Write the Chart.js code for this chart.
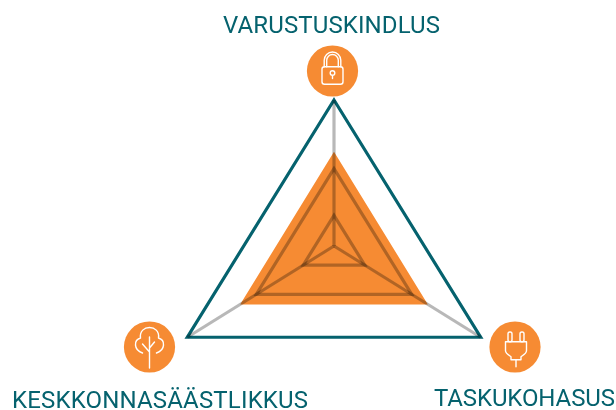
<!DOCTYPE html>
<html>
<head>
<meta charset="utf-8">
<style>
  html, body { margin: 0; padding: 0; background: #fff; }
  #wrap { position: relative; width: 616px; height: 410px; }
</style>
<script src="https://cdn.jsdelivr.net/npm/chart.js@4/dist/chart.umd.js"></script>
</head>
<body>
<div id="wrap"><canvas id="radar_chart" width="616" height="410"></canvas></div>
<script>
var categories = ["VARUSTUSKINDLUS", "TASKUKOHASUS", "KESKKONNASÄÄSTLIKKUS"];
var scores = [64.5, 64, 64];
var ringLevels = [21, 53, 100];

var TEAL = "#05626e";
var ORANGE = "#f68b33";

// the original triangle is not regular: wider and lower than a radar would draw it
class FlatRadialScale extends Chart.RadialLinearScale {
  getPointPosition(index, distance, additionalAngle) {
    var pos = super.getPointPosition(index, distance, additionalAngle);
    var dy = pos.y - this.yCenter;
    pos.x = this.xCenter + (pos.x - this.xCenter) * 1.16;
    pos.y = this.yCenter + (dy > 0 ? dy * 1.25 : dy);
    return pos;
  }
}
FlatRadialScale.id = "flatRadial";
FlatRadialScale.defaults = Chart.RadialLinearScale.defaults;
Chart.register(FlatRadialScale);

function lockIcon(ctx) {
  ctx.beginPath();
  ctx.roundRect(-10.5, -4.3, 21, 17.5, 2.5);
  ctx.stroke();
  ctx.beginPath();
  ctx.moveTo(-8.3, -4.3); ctx.lineTo(-8.3, -10.7);
  ctx.arc(0, -10.7, 8.3, Math.PI, 0);
  ctx.lineTo(8.3, -4.3);
  ctx.moveTo(-5.8, -4.3); ctx.lineTo(-5.8, -10.7);
  ctx.arc(0, -10.7, 5.8, Math.PI, 0);
  ctx.lineTo(5.8, -4.3);
  ctx.stroke();
  ctx.beginPath();
  ctx.arc(0, 2, 2.3, 0, Math.PI * 2);
  ctx.moveTo(0, 4.3); ctx.lineTo(0, 7.5);
  ctx.stroke();
}

function treeIcon(ctx) {
  ctx.beginPath();
  ctx.moveTo(-7, 6);
  ctx.bezierCurveTo(-16, 3, -16, -7, -9, -9);
  ctx.bezierCurveTo(-11, -23, 11, -23, 9, -9);
  ctx.bezierCurveTo(16, -7, 16, 3, 7, 6);
  ctx.stroke();
  ctx.beginPath();
  ctx.moveTo(0, 21); ctx.lineTo(0, -10);
  ctx.moveTo(0, 5); ctx.lineTo(-7, -3);
  ctx.moveTo(0, 1); ctx.lineTo(5, -5);
  ctx.stroke();
}

function plugIcon(ctx) {
  ctx.translate(1, 2);
  ctx.beginPath();
  ctx.moveTo(-10.5, -7.3); ctx.lineTo(10.5, -7.3); ctx.lineTo(10.5, 1.7);
  ctx.quadraticCurveTo(10.5, 4, 6, 7);
  ctx.lineTo(5, 7.7); ctx.lineTo(5, 10.7); ctx.lineTo(-5, 10.7); ctx.lineTo(-5, 7.7); ctx.lineTo(-6, 7);
  ctx.quadraticCurveTo(-10.5, 4, -10.5, 1.7);
  ctx.closePath();
  ctx.moveTo(0, 10.7); ctx.lineTo(0, 17.7);
  ctx.stroke();
  ctx.beginPath();
  ctx.roundRect(-8, -17, 4, 9.7, 1.8);
  ctx.roundRect(4, -17, 4, 9.7, 1.8);
  ctx.stroke();
}

var badges = [
  { x: 332.5, y: 71, draw: lockIcon },
  { x: 515, y: 347, draw: plugIcon },
  { x: 149.5, y: 347, draw: treeIcon }
];
var captions = [
  { left: 223, right: 440, base: 32.5 },
  { left: 434, right: 615, base: 406 },
  { left: 12, right: 308, base: 408 }
];

var axisDecor = {
  id: "axisDecor",
  afterDraw: function(chart) {
    var ctx = chart.ctx;
    ctx.save();
    badges.forEach(function(b) {
      ctx.fillStyle = ORANGE;
      ctx.beginPath();
      ctx.arc(b.x, b.y, 25.6, 0, Math.PI * 2);
      ctx.fill();
      ctx.save();
      ctx.translate(b.x, b.y);
      ctx.strokeStyle = "#fff";
      ctx.lineWidth = 1.4;
      ctx.lineJoin = "round";
      ctx.lineCap = "round";
      b.draw(ctx);
      ctx.restore();
    });
    ctx.fillStyle = TEAL;
    ctx.font = "400 24px Roboto";
    ctx.textAlign = "left";
    ctx.textBaseline = "alphabetic";
    chart.data.labels.forEach(function(label, i) {
      var c = captions[i];
      ctx.letterSpacing = "0px";
      var natural = ctx.measureText(label).width;
      var w = c.right - c.left;
      ctx.letterSpacing = ((w - natural) / (label.length - 1)).toFixed(2) + "px";
      ctx.fillText(label, c.left, c.base);
    });
    ctx.restore();
  }
};

var context = document.getElementById("radar_chart").getContext("2d");
var myChart = new Chart(context, {
  type: "radar",
  plugins: [axisDecor],
  data: {
    labels: categories,
    datasets: [{
      data: scores,
      backgroundColor: ORANGE,
      borderWidth: 0,
      pointRadius: 0,
      fill: true
    }]
  },
  options: {
    responsive: false,
    animation: false,
    layout: { padding: { left: 188, right: 136, top: 100, bottom: 18 } },
    plugins: { legend: { display: false }, tooltip: { enabled: false } },
    scales: {
      r: {
        type: "flatRadial",
        min: 0,
        max: 100,
        afterBuildTicks: function(scale) {
          scale.ticks = [{ value: 0 }].concat(ringLevels.map(function(v) { return { value: v }; }));
        },
        ticks: { display: false },
        pointLabels: { display: false },
        angleLines: { color: "rgba(0,0,0,0.28)", lineWidth: 3.2 },
        grid: {
          z: 1,
          color: function(c) { return c.tick && c.tick.value === 100 ? TEAL : "rgba(0,0,0,0.28)"; },
          lineWidth: 3.2
        }
      }
    }
  }
});
</script>
</body>
</html>
